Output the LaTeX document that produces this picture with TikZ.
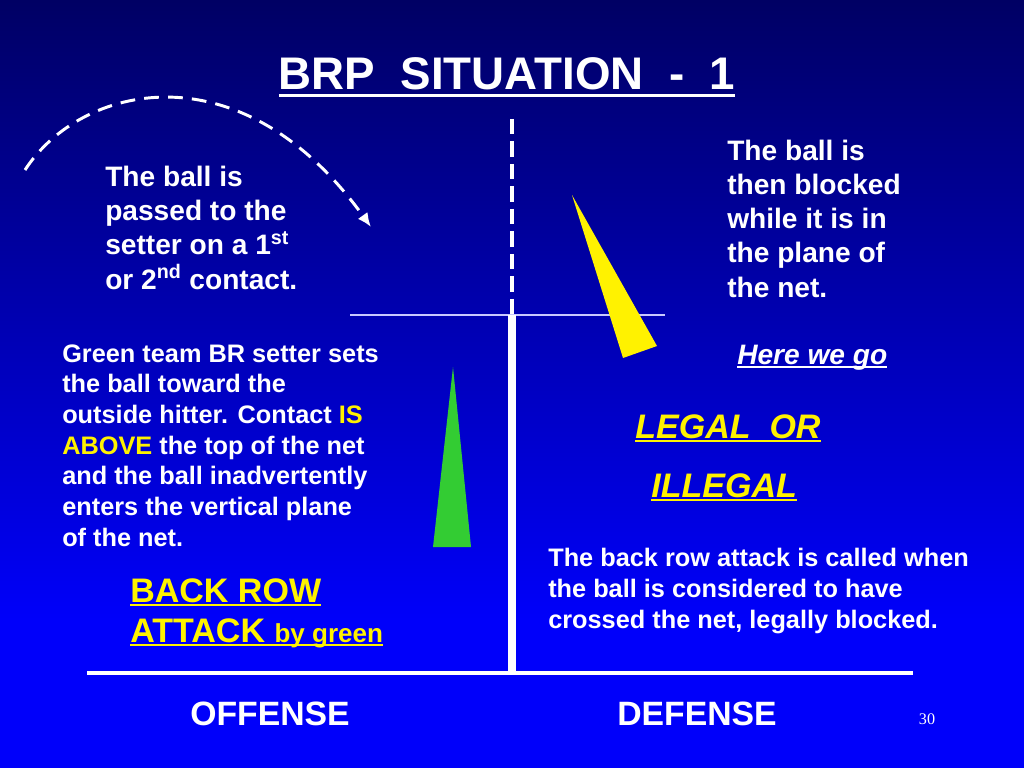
\documentclass[tikz,border=0pt]{standalone}
\usepackage{fontspec}
\setmainfont{Liberation Sans}
\newfontfamily\pagenofont{Liberation Serif}
\usetikzlibrary{arrows.meta}
\definecolor{slidetop}{RGB}{0,0,100}
\definecolor{slidebot}{RGB}{0,0,250}
\definecolor{hitgreen}{RGB}{51,204,51}
\definecolor{bandwhite}{RGB}{200,200,255}
% underline with a bar of our own thickness
\newcommand{\ulbar}[2][3pt]{\setbox0\hbox{#2}\rlap{\rule[-#1]{\wd0}{1.9pt}}\box0}
\begin{document}
\begin{tikzpicture}[x=0.025cm, y=-0.025cm, >={Latex[length=10pt, width=8.5pt]},
		slidetext/.style={text=white, inner sep=0pt, anchor=base west, align=left},
		bigtext/.style={slidetext, font=\bfseries\fontsize{20}{24.2}\selectfont},
		smalltext/.style={slidetext, font=\bfseries\fontsize{18}{21.8}\selectfont},
		calltext/.style={slidetext, text=yellow, font=\bfseries\fontsize{24.2}{30}\selectfont},
		sidetext/.style={slidetext, anchor=base, font=\bfseries\fontsize{24}{30}\selectfont},
		passline/.style={white, line width=2.1pt, dash pattern=on 10.5pt off 6.5pt},
		netdash/.style={white, line width=2.8pt, dash pattern=on 11pt off 5pt},
		post/.style={white, line width=5.7pt},
		floorline/.style={white, line width=3pt}]
		\useasboundingbox (0,0) rectangle (1024,768);
		\shade[top color=slidetop, bottom color=slidebot] (0,0) rectangle (1024,620);
		\fill[slidebot] (0,619) rectangle (1024,768);
		
		% title
		\node[slidetext, anchor=base, font=\bfseries\fontsize{32.5}{40}\selectfont] (title) at (507,90)
			{\ulbar[5pt]{BRP\ \ SITUATION\ \ -\ \ 1}};
		
		% net and floor
		\coordinate (nettop) at (512,119);
		\coordinate (netband) at (512,315);
		\coordinate (floor) at (512,673);
		\draw[netdash] (nettop) -- (netband);
		\draw[bandwhite, line width=0.8pt] (350,315) -- (665,315);
		\draw[post] (netband) -- (floor);
		\draw[floorline] (87,673) -- (913,673);
		
		% pass to the setter
		\coordinate (passfrom) at (25,170);
		\coordinate (passto) at (371,227);
		\draw[passline, ->] (passfrom) .. controls (80,85) and (240,45) .. (passto);
		
		% blocker and hitter
		\fill[yellow] (572,195) -- (623,358) -- (657,346) -- cycle;
		\fill[hitgreen] (453,367) -- (433,547) -- (471,547) -- cycle;
		
		% base of a text block = baseline of its last line
		\node[bigtext] (passnote) at (105,289) {The ball is\\passed to the\\setter on a 1\textsuperscript{st}\\or 2\textsuperscript{nd} contact.};
		\node[bigtext] (blocknote) at (727,297) {The ball is\\then blocked\\while it is in\\the plane of\\the net.};
		\node[slidetext, font=\bfseries\itshape\fontsize{20}{24}\selectfont] (herego) at (737,364) {\ulbar{Here we go}};
		\node[calltext, font=\bfseries\itshape\fontsize{24.2}{30}\selectfont] (legal) at (635,438) {\ulbar{LEGAL\ \ OR}};
		\node[calltext, font=\bfseries\itshape\fontsize{24.2}{30}\selectfont] (illegal) at (651,497) {\ulbar{ILLEGAL}};
		
		\node[smalltext] (setnote) at (62,546) {Green team BR setter sets\\the ball toward the\\outside hitter. Contact {\color{yellow}IS}\\{\color{yellow}ABOVE} the top of the net\\and the ball inadvertently\\enters the vertical plane\\of the net.};
		\node[calltext] (backrow) at (130,602) {\ulbar{BACK ROW}};
		\node[calltext] (attack) at (130,642) {\ulbar{ATTACK {\fontsize{18.5}{24}\selectfont by green}}};
		
		\node[smalltext] (callnote) at (548,628) {The back row attack is called when\\the ball is considered to have\\crossed the net, legally blocked.};
		
		\node[sidetext] (offense) at (270,725) {OFFENSE};
		\node[sidetext] (defense) at (697,725) {DEFENSE};
		\node[slidetext, anchor=base, font=\pagenofont\fontsize{11.5}{14}\selectfont] (pageno) at (927,724) {30};
	\end{tikzpicture}
\end{document}
